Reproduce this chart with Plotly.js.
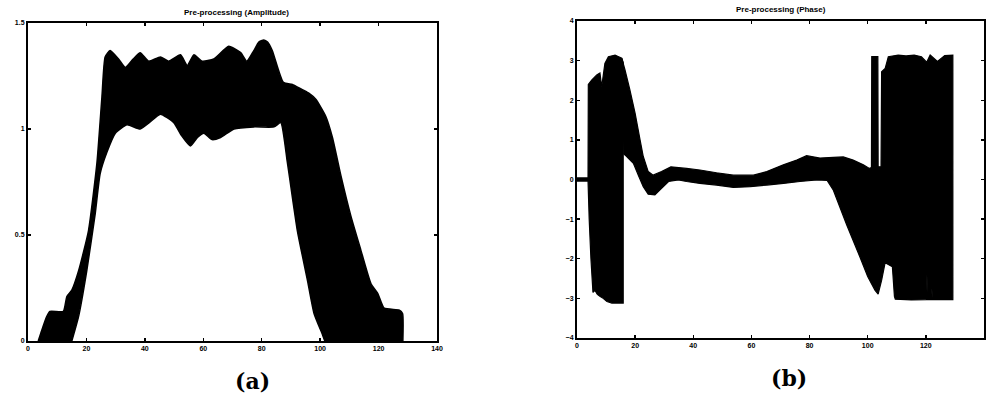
<!DOCTYPE html>
<html>
<head>
<meta charset="utf-8">
<script src="https://cdn.plot.ly/plotly-3.0.1.min.js"></script>
<style>html,body{margin:0;padding:0;background:#fff;}#chart{width:989px;height:398px;}</style>
</head>
<body>
<div id="chart"></div>
<script>
// ---- Data ----
// (a) Amplitude: outer boundary of the bundle of curves (upper / left / right edge)
var ampOuterX = [3.5, 4.7, 6.4, 7.5, 12.1, 13.3, 15.0, 17.3, 20.7, 23.6, 25.3, 26.4, 28.1, 31.0, 33.3, 36.0, 38.4, 41.3, 45.3, 48.1, 52.2, 54.5, 56.8, 59.6, 63.6, 68.7, 72.8, 74.9, 77.3, 79.0, 80.7, 82.0, 83.6, 87.4, 90.5, 93.3, 96.0, 98.5, 101.9, 104.2, 107.1, 110.5, 113.9, 117.4, 119.7, 121.9, 127.1, 128.2, 128.3];
var ampOuterY = [0, 0.05, 0.115, 0.14, 0.14, 0.21, 0.24, 0.33, 0.52, 0.84, 1.15, 1.34, 1.37, 1.33, 1.29, 1.33, 1.36, 1.32, 1.34, 1.32, 1.35, 1.30, 1.35, 1.32, 1.33, 1.39, 1.36, 1.32, 1.37, 1.41, 1.42, 1.41, 1.37, 1.22, 1.21, 1.19, 1.17, 1.14, 1.06, 0.96, 0.78, 0.59, 0.43, 0.27, 0.225, 0.155, 0.146, 0.13, 0];
// (a) Amplitude: inner boundary (lowest plateau / latest rise / earliest fall)
var ampInnerX = [15.0, 17.3, 20.1, 23.0, 24.7, 27.0, 29.9, 33.9, 38.4, 41.5, 45.3, 49.9, 52.5, 55.6, 58.0, 60.2, 63.0, 65.9, 70.5, 77.3, 84.2, 86.5, 88.8, 92.2, 95.6, 97.9, 100.8, 101.6];
var ampInnerY = [0, 0.115, 0.33, 0.6, 0.79, 0.89, 0.98, 1.02, 1.0, 1.03, 1.07, 1.03, 0.97, 0.92, 0.96, 0.98, 0.95, 0.96, 1.0, 1.01, 1.01, 1.03, 0.84, 0.52, 0.29, 0.13, 0.03, 0];

// (b) Phase, start segment and first wrapping block: upper and lower edges
var phaseATopX = [0, 3.8, 3.9, 5.05, 6.8, 7.9, 8.5, 9.6, 10.8, 13.1, 15.4, 15.9];
var phaseATopY = [0.04, 0.04, 2.4, 2.51, 2.64, 2.69, 2.34, 2.93, 3.1, 3.14, 3.06, 2.95];
var phaseABotX = [0, 3.8, 4.2, 4.8, 5.5, 6.2, 7.0, 8.0, 9.0, 10.3, 12.0, 14.0, 15.9];
var phaseABotY = [-0.04, -0.04, -1.0, -2.0, -2.85, -2.8, -2.9, -2.95, -3.0, -3.08, -3.12, -3.12, -3.12];
// (b) Phase, smooth band + falling curves + second wrapping block: upper and lower edges
var phaseBTopX = [15.4, 16.5, 18.2, 20.0, 21.7, 22.8, 24.5, 26.2, 29.1, 32.3, 37.7, 42.3, 48.0, 53.8, 60.7, 65.3, 71.0, 75.6, 79.0, 83.6, 88.2, 91.6, 95.0, 98.5, 100.6, 101.3, 101.4, 103.5, 103.6, 104.6, 104.8, 106.0, 107.1, 110.5, 113.2, 116.0, 118.5, 120.3, 121.5, 124.0, 126.5, 129.3];
var phaseBTopY = [3.06, 2.77, 2.26, 1.67, 1.0, 0.58, 0.2, 0.11, 0.2, 0.32, 0.28, 0.24, 0.17, 0.11, 0.11, 0.2, 0.37, 0.49, 0.6, 0.54, 0.56, 0.57, 0.49, 0.37, 0.28, 0.3, 3.1, 3.1, 0.32, 0.32, 2.72, 2.8, 3.1, 3.14, 3.12, 3.14, 3.1, 2.96, 3.14, 2.98, 3.13, 3.14];
var phaseBBotX = [15.9, 16.5, 19.4, 21.1, 22.8, 24.5, 26.8, 29.1, 31.5, 34.9, 37.7, 42.3, 48.0, 53.8, 59.6, 65.3, 71.0, 76.7, 82.5, 86.0, 88.2, 92.8, 97.3, 100.0, 102.5, 103.6, 104.8, 106.0, 108.5, 109.2, 109.5, 115.0, 120.2, 120.4, 120.6, 121.9, 122.1, 122.3, 129.3];
var phaseBBotY = [0.66, 0.62, 0.41, 0.11, -0.18, -0.37, -0.39, -0.22, -0.05, -0.01, -0.05, -0.1, -0.14, -0.2, -0.18, -0.14, -0.1, -0.05, -0.01, -0.02, -0.27, -1.15, -1.95, -2.45, -2.79, -2.89, -2.54, -2.1, -2.2, -2.95, -3.02, -3.04, -3.03, -2.4, -3.03, -3.03, -2.75, -3.03, -3.03];

var xTicks = [0, 20, 40, 60, 80, 100, 120, 140];
var ampTicks = [0, 0.5, 1, 1.5];
var ampTickText = ['0', '0.5', '1', '1.5'];
var phaseTicks = [-4, -3, -2, -1, 0, 1, 2, 3, 4];
var titleA = 'Pre-processing (Amplitude)';
var titleB = 'Pre-processing (Phase)';

// closed outline: upper edge left->right, then lower edge right->left
function outline(tx, ty, bx, by) {
  return {x: tx.concat(bx.slice().reverse()), y: ty.concat(by.slice().reverse())};
}
var polyA = outline(phaseATopX, phaseATopY, phaseABotX, phaseABotY);
var polyB = outline(phaseBTopX, phaseBTopY, phaseBBotX, phaseBBotY);

// ---- Traces ----
var traces = [
  {x: ampInnerX, y: ampInnerY, xaxis: 'x', yaxis: 'y', mode: 'lines',
   line: {color: '#000', width: 1.5, shape: 'spline', smoothing: 0.5}, hoverinfo: 'skip'},
  {x: ampOuterX, y: ampOuterY, xaxis: 'x', yaxis: 'y', mode: 'lines', fill: 'tonexty', fillcolor: '#000',
   line: {color: '#000', width: 1.5, shape: 'spline', smoothing: 0.5}, hoverinfo: 'skip'},
  {x: polyA.x, y: polyA.y, xaxis: 'x2', yaxis: 'y2', mode: 'lines', fill: 'toself', fillcolor: '#000',
   line: {color: '#000', width: 1.2, simplify: false}, hoverinfo: 'skip'},
  {x: polyB.x, y: polyB.y, xaxis: 'x2', yaxis: 'y2', mode: 'lines', fill: 'toself', fillcolor: '#000',
   line: {color: '#000', width: 1.2, simplify: false}, hoverinfo: 'skip'}
];

var tickFont = {family: 'Liberation Sans, Arial, sans-serif', size: 7, color: '#000', weight: 'bold'};
function axisBase(extra) {
  var a = {showgrid: false, zeroline: false, showline: true, linecolor: '#000', linewidth: 2,
           mirror: 'allticks', ticks: 'inside', ticklen: 3, tickwidth: 1.5, tickcolor: '#000',
           tickfont: tickFont, fixedrange: true};
  for (var k in extra) a[k] = extra[k];
  return a;
}

var layout = {
  width: 989, height: 398,
  margin: {l: 0, r: 0, t: 0, b: 0},
  paper_bgcolor: '#fff', plot_bgcolor: '#fff',
  showlegend: false,
  xaxis: axisBase({domain: [0.0283, 0.4419], range: [0, 140], tickvals: xTicks, anchor: 'y'}),
  yaxis: axisBase({domain: [0.1432, 0.9422], range: [0, 1.5], tickvals: ampTicks, ticktext: ampTickText, anchor: 'x'}),
  xaxis2: axisBase({domain: [0.5834, 0.9949], range: [0, 140], tickvals: xTicks, anchor: 'y2'}),
  yaxis2: axisBase({domain: [0.1508, 0.9472], range: [-4, 4], tickvals: phaseTicks, anchor: 'x2'}),
  annotations: [
    {text: titleA, xref: 'paper', yref: 'paper', x: 236/989, y: 1 - 13/398, xanchor: 'center', yanchor: 'middle',
     showarrow: false, font: {family: 'Liberation Sans, Arial, sans-serif', size: 8, color: '#000', weight: 'bold'}},
    {text: titleB, xref: 'paper', yref: 'paper', x: 781/989, y: 1 - 9/398, xanchor: 'center', yanchor: 'middle',
     showarrow: false, font: {family: 'Liberation Sans, Arial, sans-serif', size: 8, color: '#000', weight: 'bold'}},
    {text: '(a)', xref: 'paper', yref: 'paper', x: 252/989, y: 1 - 381/398, xanchor: 'center', yanchor: 'middle',
     showarrow: false, font: {family: 'DejaVu Serif, serif', size: 22, color: '#000', weight: 'bold'}},
    {text: '(b)', xref: 'paper', yref: 'paper', x: 789/989, y: 1 - 378/398, xanchor: 'center', yanchor: 'middle',
     showarrow: false, font: {family: 'DejaVu Serif, serif', size: 22, color: '#000', weight: 'bold'}}
  ]
};

Plotly.newPlot('chart', traces, layout, {staticPlot: true, displayModeBar: false});
</script>
</body>
</html>
